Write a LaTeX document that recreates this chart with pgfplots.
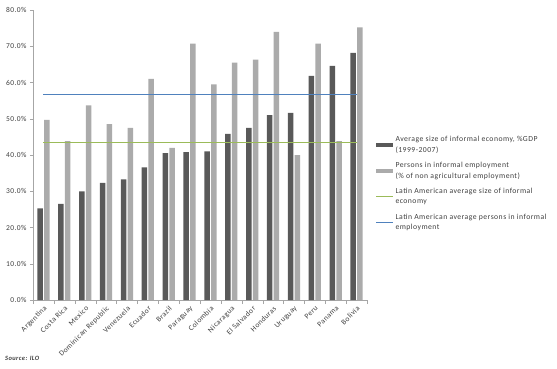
\documentclass[border=0pt]{standalone}
\usepackage{pgfplots}
\pgfplotsset{compat=1.18}
\usepackage{fontspec}
\setmainfont{Carlito}[LetterSpace=6]
\definecolor{darkbar}{HTML}{595959}
\definecolor{lightbar}{HTML}{ABABAB}
\definecolor{greenl}{HTML}{9BBB59}
\definecolor{bluel}{HTML}{4F81BD}
\definecolor{axgray}{HTML}{A6A6A6}
\definecolor{txt}{HTML}{404040}
\begin{document}
\begin{tikzpicture}
\useasboundingbox (0,0) rectangle (557pt,368pt);
\begin{axis}[
  at={(33pt,68pt)}, anchor=south west,
  scale only axis, width=334pt, height=290pt,
  xmin=-0.5, xmax=15.5, ymin=0, ymax=80,
  axis x line*=bottom, axis y line*=left,
  axis line style={axgray},
  xtick={0,...,15},
  xticklabels={Argentina,Costa Rica,Mexico,Dominican Republic,Venezuela,Ecuador,Brazil,Paraguay,Colombia,Nicaragua,El Salvador,Honduras,Uruguay,Peru,Panama,Bolivia},
  major x tick style={draw=none},
  minor xtick={-0.5,0.5,...,15.5},
  minor x tick style={axgray},
  minor tick length=4pt,
  x tick label style={rotate=45, anchor=north east, font=\fontsize{7.5}{8}\selectfont, text=txt, inner sep=1.5pt},
  ytick={0,10,...,80},
  y tick label style={font=\fontsize{7.5}{8}\selectfont, text=txt},
  yticklabel={\pgfmathprintnumber[fixed,fixed zerofill,precision=1]{\tick}\%},
  /pgf/number format/assume math mode=true,
  major y tick style={axgray},
  tick align=outside, major tick length=3pt,
  legend style={at={(1.025,0.572)}, anchor=north west, draw=none, fill=none,
    font=\fontsize{7.7}{10.5}\selectfont, text=txt, cells={align=left, anchor=west},
    row sep=4.5pt, inner sep=0pt},
  legend cell align=left,
]
\addplot[ybar, bar width=5.5pt, bar shift=-3.4pt, fill=darkbar, draw=none,
  legend image code/.code={\fill[darkbar] (0pt,-2pt) rectangle (17pt,2pt);}]
coordinates {(0,25.3)(1,26.5)(2,30.0)(3,32.3)(4,33.3)(5,36.6)(6,40.5)(7,40.8)(8,41.0)(9,45.8)(10,47.5)(11,51.0)(12,51.6)(13,61.8)(14,64.6)(15,68.2)};
\addlegendentry{Average size of informal economy, \%GDP\\(1999-2007)}
\addplot[ybar, bar width=5.5pt, bar shift=3.4pt, fill=lightbar, draw=none,
  legend image code/.code={\fill[lightbar] (0pt,-2pt) rectangle (17pt,2pt);}]
coordinates {(0,49.7)(1,43.8)(2,53.7)(3,48.5)(4,47.5)(5,61.0)(6,42.0)(7,70.7)(8,59.5)(9,65.5)(10,66.3)(11,74.0)(12,40.0)(13,70.7)(14,43.8)(15,75.2)};
\addlegendentry{Persons in informal employment\\(\% of non agricultural employment)}
\addplot[greenl, line width=0.9pt, mark=none]
coordinates {(0,43.4)(1,43.4)(2,43.4)(3,43.4)(4,43.4)(5,43.4)(6,43.4)(7,43.4)(8,43.4)(9,43.4)(10,43.4)(11,43.4)(12,43.4)(13,43.4)(14,43.4)(15,43.4)};
\addlegendentry{Latin American average size of informal\\economy}
\addplot[bluel, line width=0.9pt, mark=none]
coordinates {(0,56.8)(1,56.8)(2,56.8)(3,56.8)(4,56.8)(5,56.8)(6,56.8)(7,56.8)(8,56.8)(9,56.8)(10,56.8)(11,56.8)(12,56.8)(13,56.8)(14,56.8)(15,56.8)};
\addlegendentry{Latin American average persons in informal\\employment}
\end{axis}
\node[anchor=west, font=\fontsize{6.5}{7}\selectfont\bfseries\itshape, text=txt, inner sep=0pt] at (5pt,10pt) {Source: ILO};
\end{tikzpicture}
\end{document}
